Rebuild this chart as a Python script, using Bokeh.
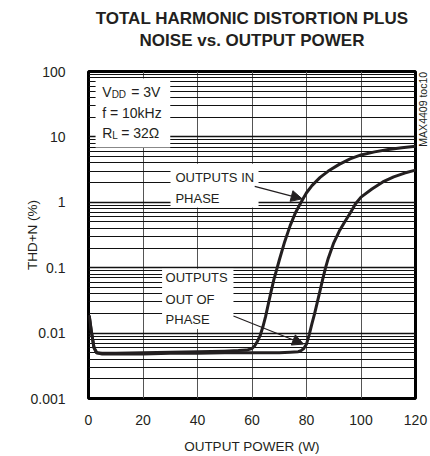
from bokeh.plotting import figure
from bokeh.models import (FixedTicker, Label, BoxAnnotation, Arrow, NormalHead, Range1d, Title, LogAxis)
from bokeh.embed import file_html
from bokeh.resources import INLINE
import math

# ---- data ----
in_phase_power = [0.3, 1, 2, 3, 5, 10, 20, 30, 40, 50, 55, 58, 60, 61, 62, 63, 64, 65, 66, 67, 68, 69, 70,
                  72, 74, 76, 78, 80, 82, 85, 88, 92, 96, 100, 105, 110, 115, 120]
in_phase_thdn = [0.018, 0.011, 0.006, 0.005, 0.0049, 0.0049, 0.005, 0.0051, 0.0052, 0.0053, 0.0054, 0.0055,
                 0.0058, 0.0064, 0.0075, 0.0092, 0.0125, 0.018, 0.028, 0.043, 0.065, 0.092, 0.13,
                 0.25, 0.44, 0.7, 1.0, 1.4, 1.8, 2.4, 3.0, 3.8, 4.6, 5.3, 5.9, 6.4, 6.8, 7.2]
out_phase_power = [0.3, 1, 2, 3, 5, 10, 20, 30, 40, 50, 60, 65, 70, 74, 77, 78, 79, 80, 81, 82, 83, 84, 85,
                   86, 87, 88, 90, 92, 94, 96, 98, 100, 104, 108, 112, 116, 120]
out_phase_thdn = [0.018, 0.011, 0.006, 0.005, 0.0048, 0.0048, 0.0048, 0.0049, 0.0049, 0.005, 0.005, 0.005,
                  0.005, 0.0051, 0.0052, 0.0054, 0.0058, 0.0068, 0.0095, 0.014, 0.02, 0.03, 0.045,
                  0.068, 0.1, 0.14, 0.24, 0.36, 0.5, 0.68, 0.95, 1.2, 1.6, 2.05, 2.45, 2.8, 3.1]

x_ticks = [0, 20, 40, 60, 80, 100, 120]
x_tick_labels = ["0", "20", "40", "60", "80", "100", "120"]
y_ticks = [0.001, 0.01, 0.1, 1, 10, 100]
y_tick_labels = ["0.001", "0.01", "0.1", "1", "10", "100"]

title_line1 = "TOTAL HARMONIC DISTORTION PLUS"
title_line2 = "NOISE vs. OUTPUT POWER"
x_label = "OUTPUT POWER (W)"
y_label = "THD+N (%)"
side_code = "MAX4409 toc10"
side_code_at = 7.1

FONT = "'Liberation Sans Narrow', 'Liberation Sans', Arial, sans-serif"
INK = "#231f20"

p = figure(frame_width=327, frame_height=327, x_axis_type="linear", y_axis_type="log",
           x_range=Range1d(0, 120), y_range=Range1d(0.001, 100),
           output_backend="svg", toolbar_location=None,
           min_border_left=88, min_border_right=8, min_border_bottom=50, min_border_top=71)

p.add_layout(Title(text=title_line2, align="center", text_font=FONT, text_font_size="17px",
                   text_font_style="bold", text_color=INK, standoff=44), "above")
p.add_layout(Title(text=title_line1, align="center", text_font=FONT, text_font_size="17px",
                   text_font_style="bold", text_color=INK, standoff=-42), "above")

# ticks
minor = [k * 10.0 ** d for d in range(-3, 2) for k in range(2, 10)]
yt = FixedTicker(ticks=y_ticks, minor_ticks=minor)
p.yaxis.ticker = yt
p.ygrid.ticker = yt
p.yaxis.major_label_overrides = {t: l for t, l in zip(y_ticks, y_tick_labels)}
xt = FixedTicker(ticks=x_ticks)
p.xaxis.ticker = xt
p.xgrid.ticker = xt
p.xaxis.major_label_overrides = {t: l for t, l in zip(x_ticks, x_tick_labels)}

for ax in (p.xaxis[0], p.yaxis[0]):
    ax.axis_line_color = None
    ax.major_tick_line_color = None
    ax.minor_tick_line_color = None
    ax.major_label_text_font = FONT
    ax.major_label_text_font_size = "14px"
    ax.major_label_text_color = INK
    ax.axis_label_text_font = FONT
    ax.axis_label_text_font_size = "13.5px"
    ax.axis_label_text_font_style = "normal"
    ax.axis_label_text_color = INK

p.xaxis.axis_label = x_label
p.yaxis.axis_label = y_label
p.yaxis.major_label_standoff = 17
p.xaxis.major_label_standoff = 10
p.xaxis.axis_label_standoff = 11
p.yaxis.axis_label_standoff = -13

# small vertical code at the right edge, drawn as a right-side axis label
side_axis = LogAxis(ticker=FixedTicker(ticks=[side_code_at], minor_ticks=[]),
                    major_label_overrides={side_code_at: side_code},
                    major_label_orientation=math.pi / 2,
                    axis_line_color=None, major_tick_line_color=None, minor_tick_line_color=None,
                    major_label_text_font=FONT, major_label_text_font_size="10.5px",
                    major_label_text_color=INK, major_label_standoff=2)
p.add_layout(side_axis, "right")

p.xgrid.grid_line_color = "#555555"
p.xgrid.grid_line_width = 1
p.ygrid.grid_line_color = "#111111"
p.ygrid.grid_line_width = 1.6
p.ygrid.minor_grid_line_color = "#111111"
p.ygrid.minor_grid_line_width = 1

p.outline_line_color = "#000000"
p.outline_line_width = 3
p.background_fill_color = "white"
p.border_fill_color = "white"

# white boxes behind annotation texts
for (l, r, b, t) in [(2.6, 30.0, 6.9, 78), (30.1, 62.4, 0.83, 3.9), (27.0, 53.2, 0.0116, 0.096)]:
    p.add_layout(BoxAnnotation(left=l, right=r, bottom=b, top=t, fill_color="white", fill_alpha=1,
                               line_color=None, level="glyph"))

# curves
p.line(in_phase_power, in_phase_thdn, line_color=INK, line_width=3, line_join="round", line_cap="round")
p.line(out_phase_power, out_phase_thdn, line_color=INK, line_width=3, line_join="round", line_cap="round")

def lab(x, y, text, size="14px", dx=0, dy=5):
    p.add_layout(Label(x=x, y=y, text=text, text_font=FONT, text_font_size=size, text_color=INK,
                       text_baseline="alphabetic", x_offset=dx, y_offset=dy))

# condition text
lab(5.0, 39.6, "V", dy=6)
lab(5.0, 36.6, "DD", size="10px", dx=9.5, dy=6)
lab(5.0, 39.6, "= 3V", dx=29, dy=6)
lab(5.0, 19.5, "f = 10kHz")
lab(5.0, 9.5, "R")
lab(5.0, 8.8, "L", size="10px", dx=10.2)
lab(5.0, 9.5, "= 32\u03a9", dx=19)

# curve labels
lab(31.9, 2.02, "OUTPUTS IN", size="13px")
lab(31.9, 0.96, "PHASE", size="13px")
lab(28.3, 0.0561, "OUTPUTS", size="13px", dy=7)
lab(28.3, 0.0261, "OUT OF", size="13px", dy=6)
lab(28.3, 0.0129, "PHASE", size="13px", dy=6)

# arrows
p.add_layout(Arrow(x_start=61.0, y_start=1.75, x_end=78.4, y_end=1.13, line_color=INK, line_width=1.2,
                   end=NormalHead(size=11, fill_color=INK, line_color=INK)))
p.add_layout(Arrow(x_start=53.2, y_start=0.0183, x_end=78.9, y_end=0.0068, line_color=INK, line_width=1.2,
                   end=NormalHead(size=11, fill_color=INK, line_color=INK)))

open("out.html", "w").write(file_html(p, INLINE))
